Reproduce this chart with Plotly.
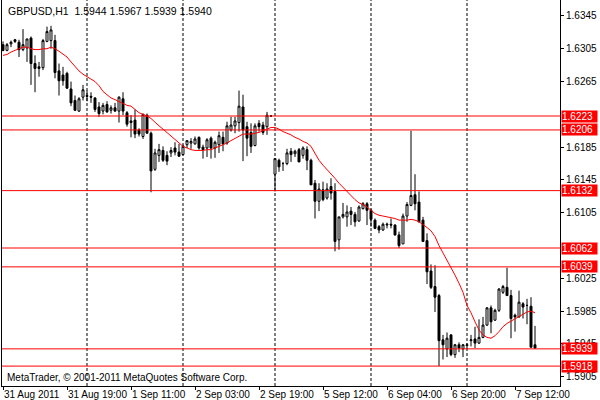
import plotly.graph_objects as go

# GBPUSD H1 bars, 31 Aug 03:00 .. 7 Sep 17:00 (bar index 0..133)
opens = [
    1.6310, 1.6303, 1.6311, 1.6316, 1.6313, 1.6304, 1.6306, 1.6318, 1.6287, 1.6283,
    1.6282, 1.6314, 1.6315, 1.6315, 1.6278, 1.6273, 1.6275, 1.6256, 1.6242, 1.6229,
    1.6246, 1.6248, 1.6247, 1.6245, 1.6234, 1.6229, 1.6237, 1.6230, 1.6233, 1.6229,
    1.6244, 1.6227, 1.6217, 1.6218, 1.6206, 1.6198, 1.6224, 1.6202, 1.6158, 1.6175,
    1.6181, 1.6175, 1.6178, 1.6184, 1.6179, 1.6176, 1.6188, 1.6190, 1.6189, 1.6197,
    1.6185, 1.6184, 1.6196, 1.6184, 1.6188, 1.6197, 1.6190, 1.6206, 1.6211, 1.6215,
    1.6234, 1.6210, 1.6203, 1.6187, 1.6214, 1.6212, 1.6210, 1.6223, 1.6152, 1.6169,
    1.6165, 1.6165, 1.6180, 1.6177, 1.6182, 1.6175, 1.6182, 1.6169, 1.6141, 1.6119,
    1.6133, 1.6123, 1.6137, 1.6131, 1.6072, 1.6100, 1.6100, 1.6107, 1.6103, 1.6095,
    1.6110, 1.6116, 1.6108, 1.6096, 1.6088, 1.6084, 1.6090, 1.6091, 1.6090, 1.6078,
    1.6067, 1.6101, 1.6114, 1.6127, 1.6118, 1.6096, 1.6071, 1.6034, 1.6015, 1.6004,
    1.5950, 1.5939, 1.5956, 1.5932, 1.5944, 1.5939, 1.5943, 1.5949, 1.5951, 1.5946,
    1.5953, 1.5968, 1.5989, 1.5974, 1.5986, 1.6008, 1.6014, 1.6004, 1.5980, 1.5978,
    1.5994, 1.5992, 1.5991, 1.5944,
]
highs = [
    1.6314, 1.6312, 1.6315, 1.6317, 1.6316, 1.6329, 1.6317, 1.6320, 1.6297, 1.6289,
    1.6317, 1.6332, 1.6333, 1.6322, 1.6287, 1.6283, 1.6277, 1.6265, 1.6248, 1.6246,
    1.6261, 1.6254, 1.6252, 1.6246, 1.6240, 1.6239, 1.6241, 1.6236, 1.6239, 1.6247,
    1.6252, 1.6229, 1.6224, 1.6231, 1.6208, 1.6226, 1.6226, 1.6204, 1.6183, 1.6189,
    1.6186, 1.6180, 1.6185, 1.6191, 1.6189, 1.6188, 1.6193, 1.6196, 1.6198, 1.6198,
    1.6188, 1.6196, 1.6198, 1.6193, 1.6204, 1.6204, 1.6216, 1.6222, 1.6222, 1.6254,
    1.6249, 1.6216, 1.6214, 1.6214, 1.6218, 1.6216, 1.6228, 1.6224, 1.6171, 1.6171,
    1.6167, 1.6183, 1.6184, 1.6182, 1.6184, 1.6186, 1.6186, 1.6171, 1.6145, 1.6141,
    1.6143, 1.6141, 1.6147, 1.6141, 1.6100, 1.6117, 1.6114, 1.6112, 1.6106, 1.6114,
    1.6118, 1.6118, 1.6110, 1.6098, 1.6090, 1.6093, 1.6093, 1.6098, 1.6091, 1.6082,
    1.6104, 1.6118, 1.6205, 1.6152, 1.6131, 1.6100, 1.6080, 1.6042, 1.6041, 1.6006,
    1.5956, 1.5959, 1.5957, 1.5945, 1.5947, 1.5945, 1.5946, 1.5956, 1.5966, 1.5975,
    1.5978, 1.5990, 1.5992, 1.5988, 1.6013, 1.6017, 1.6038, 1.6011, 1.5982, 1.6010,
    1.5996, 1.6000, 1.6002, 1.5967,
]
lows = [
    1.6302, 1.6302, 1.6307, 1.6312, 1.6295, 1.6302, 1.6289, 1.6261, 1.6252, 1.6271,
    1.6279, 1.6313, 1.6305, 1.6269, 1.6248, 1.6260, 1.6256, 1.6235, 1.6229, 1.6228,
    1.6242, 1.6241, 1.6239, 1.6228, 1.6222, 1.6225, 1.6227, 1.6226, 1.6228, 1.6215,
    1.6224, 1.6210, 1.6197, 1.6196, 1.6198, 1.6195, 1.6202, 1.6130, 1.6156, 1.6167,
    1.6167, 1.6163, 1.6173, 1.6175, 1.6173, 1.6175, 1.6184, 1.6183, 1.6188, 1.6182,
    1.6171, 1.6173, 1.6171, 1.6172, 1.6178, 1.6180, 1.6188, 1.6204, 1.6202, 1.6204,
    1.6168, 1.6174, 1.6178, 1.6186, 1.6204, 1.6200, 1.6200, 1.6222, 1.6131, 1.6155,
    1.6156, 1.6163, 1.6167, 1.6173, 1.6167, 1.6171, 1.6157, 1.6139, 1.6098, 1.6107,
    1.6119, 1.6121, 1.6121, 1.6058, 1.6060, 1.6098, 1.6088, 1.6090, 1.6088, 1.6094,
    1.6109, 1.6090, 1.6088, 1.6085, 1.6080, 1.6083, 1.6086, 1.6086, 1.6077, 1.6062,
    1.6067, 1.6094, 1.6113, 1.6108, 1.6093, 1.6070, 1.6018, 1.6012, 1.5984, 1.5918,
    1.5926, 1.5929, 1.5930, 1.5928, 1.5935, 1.5929, 1.5939, 1.5942, 1.5940, 1.5945,
    1.5952, 1.5967, 1.5958, 1.5973, 1.5984, 1.6006, 1.6004, 1.5952, 1.5960, 1.5977,
    1.5976, 1.5969, 1.5941, 1.5939,
]
closes = [
    1.6303, 1.6310, 1.6313, 1.6314, 1.6304, 1.6310, 1.6317, 1.6287, 1.6281, 1.6281,
    1.6315, 1.6326, 1.6328, 1.6276, 1.6266, 1.6266, 1.6257, 1.6239, 1.6230, 1.6244,
    1.6255, 1.6247, 1.6246, 1.6231, 1.6226, 1.6236, 1.6228, 1.6233, 1.6229, 1.6246,
    1.6229, 1.6213, 1.6215, 1.6201, 1.6201, 1.6225, 1.6202, 1.6156, 1.6178, 1.6182,
    1.6169, 1.6168, 1.6181, 1.6179, 1.6174, 1.6186, 1.6193, 1.6192, 1.6195, 1.6184,
    1.6182, 1.6194, 1.6184, 1.6191, 1.6199, 1.6189, 1.6211, 1.6212, 1.6217, 1.6235,
    1.6206, 1.6196, 1.6186, 1.6211, 1.6210, 1.6203, 1.6224, 1.6223, 1.6171, 1.6161,
    1.6165, 1.6178, 1.6176, 1.6180, 1.6167, 1.6184, 1.6169, 1.6139, 1.6119, 1.6134,
    1.6121, 1.6134, 1.6129, 1.6070, 1.6100, 1.6103, 1.6106, 1.6103, 1.6094, 1.6112,
    1.6116, 1.6108, 1.6097, 1.6086, 1.6084, 1.6091, 1.6091, 1.6090, 1.6078, 1.6065,
    1.6101, 1.6115, 1.6126, 1.6116, 1.6094, 1.6070, 1.6033, 1.6014, 1.6002, 1.5949,
    1.5944, 1.5952, 1.5932, 1.5944, 1.5940, 1.5944, 1.5944, 1.5950, 1.5946, 1.5953,
    1.5968, 1.5989, 1.5972, 1.5986, 1.6012, 1.6015, 1.6004, 1.5976, 1.5978, 1.5996,
    1.5990, 1.5992, 1.5941, 1.5940,
]
# moving average (red line)
ma = [
    1.6297, 1.6298, 1.6301, 1.6303, 1.6305, 1.6307, 1.6307, 1.6305, 1.6304, 1.6304,
    1.6305, 1.6305, 1.6307, 1.6305, 1.6302, 1.6299, 1.6295, 1.6289, 1.6283, 1.6278,
    1.6274, 1.6271, 1.6269, 1.6265, 1.6260, 1.6253, 1.6249, 1.6245, 1.6243, 1.6241,
    1.6238, 1.6236, 1.6235, 1.6231, 1.6227, 1.6225, 1.6223, 1.6220, 1.6215, 1.6211,
    1.6207, 1.6203, 1.6199, 1.6194, 1.6190, 1.6186, 1.6184, 1.6182, 1.6181, 1.6181,
    1.6181, 1.6182, 1.6182, 1.6184, 1.6186, 1.6188, 1.6190, 1.6193, 1.6196, 1.6199,
    1.6201, 1.6201, 1.6201, 1.6202, 1.6203, 1.6205, 1.6207, 1.6209, 1.6209, 1.6207,
    1.6204, 1.6202, 1.6200, 1.6197, 1.6195, 1.6192, 1.6190, 1.6186, 1.6178, 1.6169,
    1.6163, 1.6158, 1.6153, 1.6147, 1.6141, 1.6136, 1.6130, 1.6125, 1.6121, 1.6117,
    1.6115, 1.6112, 1.6108, 1.6104, 1.6102, 1.6101, 1.6100, 1.6099, 1.6098, 1.6096,
    1.6096, 1.6096, 1.6097, 1.6096, 1.6094, 1.6091, 1.6087, 1.6083, 1.6076, 1.6065,
    1.6056, 1.6047, 1.6039, 1.6029, 1.6019, 1.6008, 1.5992, 1.5983, 1.5972, 1.5962,
    1.5956, 1.5953, 1.5952, 1.5955, 1.5960, 1.5966, 1.5970, 1.5973, 1.5976, 1.5979,
    1.5982, 1.5984, 1.5985, 1.5983,
]

tick_bars = [0, 16, 32, 48, 64, 80, 96, 112, 128]
tick_labels = ["31 Aug 2011", "31 Aug 19:00", "1 Sep 11:00", "2 Sep 03:00",
               "2 Sep 19:00", "5 Sep 12:00", "6 Sep 04:00", "6 Sep 20:00",
               "7 Sep 12:00"]
# price scale labels (1.6225 and 1.6065 sit under the red level boxes)
price_ticks = [1.5905, 1.5945, 1.5985, 1.6025, 1.6105, 1.6145, 1.6185,
               1.6265, 1.6305, 1.6345]
separator_bars = [21, 45, 68, 92, 116]
level_prices = [1.6223, 1.6206, 1.6132, 1.6062, 1.6039, 1.5939, 1.5918]

title_text = "GBPUSD,H1&nbsp;&nbsp;1.5944 1.5967 1.5939 1.5940"
copyright_text = "MetaTrader, © 2001-2011 MetaQuotes Software Corp."

FONT = "Liberation Sans"
bars = list(range(len(opens)))

fig = go.Figure()
fig.add_trace(go.Candlestick(
    x=bars, open=opens, high=highs, low=lows, close=closes,
    increasing=dict(line=dict(color="black", width=1), fillcolor="white"),
    decreasing=dict(line=dict(color="black", width=1), fillcolor="black"),
    whiskerwidth=0, hoverinfo="skip", showlegend=False,
))
fig.add_trace(go.Scatter(
    x=bars, y=ma, mode="lines", line=dict(color="#ff0000", width=1),
    hoverinfo="skip", showlegend=False,
))

shapes = []
for b in separator_bars:
    shapes.append(dict(type="line", xref="x", yref="paper", x0=b, x1=b, y0=0, y1=1,
                       line=dict(color="black", width=1, dash="3px,2px"), layer="below"))
for p in level_prices:
    shapes.append(dict(type="line", xref="paper", yref="y", x0=0, x1=1, y0=p, y1=p,
                       line=dict(color="#ff0000", width=1), layer="above"))

annotations = []
for p in level_prices:
    annotations.append(dict(
        xref="paper", yref="y", x=1, y=p, xanchor="left", yanchor="middle",
        text=f"{p:.4f}", showarrow=False, bgcolor="#ff0000", borderpad=0,
        width=35, align="left", xshift=1,
        font=dict(family=FONT, size=10, color="white"),
    ))
for b, lab in zip(tick_bars, tick_labels):
    annotations.append(dict(
        xref="x", yref="paper", x=b, y=0, xanchor="left", yanchor="top",
        text=lab, showarrow=False, yshift=-1, xshift=-1,
        font=dict(family=FONT, size=10, color="black"),
    ))
annotations.append(dict(
    xref="paper", yref="paper", x=0, y=1, xanchor="left", yanchor="top",
    text=title_text, showarrow=False, xshift=4, yshift=-3,
    font=dict(family=FONT, size=10.5, color="black"),
))
annotations.append(dict(
    xref="paper", yref="paper", x=0, y=0, xanchor="left", yanchor="bottom",
    text=copyright_text, showarrow=False, xshift=3, yshift=1,
    font=dict(family=FONT, size=10, color="black"),
))

fig.update_layout(
    width=600, height=400,
    margin=dict(l=2, r=40, t=0, b=14),
    paper_bgcolor="white", plot_bgcolor="white",
    showlegend=False,
    xaxis=dict(
        range=[-0.25, 139.25], showgrid=False, zeroline=False,
        rangeslider=dict(visible=False),
        showline=True, linecolor="black", linewidth=1,
        tickvals=tick_bars, ticks="outside", ticklen=3, tickcolor="black",
        showticklabels=False,
    ),
    yaxis=dict(
        range=[1.58937, 1.63645], side="right", showgrid=False, zeroline=False,
        showline=True, linecolor="black", linewidth=1, mirror=True,
        tickvals=price_ticks, tickformat=".4f",
        ticks="outside", ticklen=3, tickcolor="black",
        tickfont=dict(family=FONT, size=10, color="black"),
    ),
    shapes=shapes,
    annotations=annotations,
)

# drop the default 8px page margin so the chart sits at the window's corner
fig.write_html("out.html", config={"displayModeBar": False},
               post_script="document.body.style.margin='0';")
